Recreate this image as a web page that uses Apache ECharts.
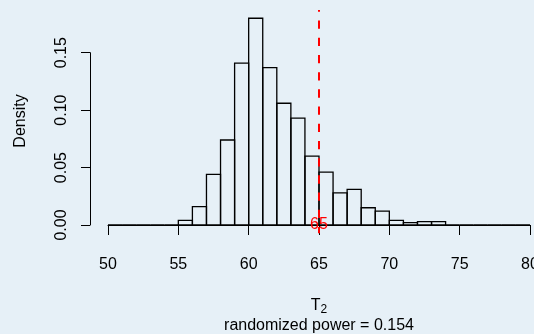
<!DOCTYPE html>
<html>
<head>
<meta charset="utf-8">
<script src="https://cdn.jsdelivr.net/npm/echarts@6/dist/echarts.min.js"></script>
<style>
  html, body { margin: 0; padding: 0; background: #e6f0f7; }
  #chart { width: 534px; height: 334px; }
</style>
</head>
<body>
<div id="chart"></div>
<script>
// histogram bin edges (width 1) and densities
const breaks = [50, 51, 52, 53, 54, 55, 56, 57, 58, 59, 60, 61, 62, 63, 64, 65,
                66, 67, 68, 69, 70, 71, 72, 73, 74, 75, 76, 77, 78, 79, 80]
const density = [0, 0, 0, 0, 0, 0.004, 0.016, 0.044, 0.074, 0.141, 0.180, 0.137, 0.106, 0.093, 0.060,
                 0.046, 0.028, 0.031, 0.015, 0.012, 0.004, 0.002, 0.003, 0.003, 0, 0, 0, 0, 0, 0]
const xTicks = [50, 55, 60, 65, 70, 75, 80]
const yTicks = [0, 0.05, 0.10, 0.15]
const observed = 65
// abline spans the whole plot region (data range + 4%)
const lineBottom = -0.0072
const lineTop = 0.1872
const powerText = 'randomized power = 0.154'

const font = 'Liberation Sans, Arial, Helvetica, sans-serif'
const myChart = echarts.init(document.getElementById('chart'))

const bins = density.map((d, i) => [breaks[i], breaks[i + 1], d])

const option = {
  backgroundColor: '#e6f0f7',
  animation: false,
  textStyle: { fontFamily: font },
  grid: { left: 108, right: 4, top: 52.7, bottom: 109, containLabel: false, outerBoundsMode: 'none' },
  xAxis: {
    type: 'value',
    min: xTicks[0],
    max: xTicks[xTicks.length - 1],
    interval: 5,
    offset: 8,
    splitLine: { show: false },
    axisLine: { show: true, lineStyle: { color: '#000', width: 1 } },
    axisTick: { show: true, length: 10, inside: false, lineStyle: { color: '#000' } },
    axisLabel: { fontSize: 16, color: '#000', margin: 24, showMinLabel: true, showMaxLabel: true, hideOverlap: false }
  },
  yAxis: {
    type: 'value',
    min: yTicks[0],
    max: yTicks[yTicks.length - 1],
    interval: 0.05,
    offset: 18,
    splitLine: { show: false },
    axisLine: { show: true, lineStyle: { color: '#000', width: 1 } },
    axisTick: { show: true, length: 9, lineStyle: { color: '#000' } },
    axisLabel: {
      fontSize: 16, color: '#000', rotate: 90, margin: 20,
      formatter: v => v.toFixed(2)
    }
  },
  graphic: [
    {
      type: 'text', x: 21, y: 121, rotation: Math.PI / 2,
      style: { text: 'Density', font: '16px ' + font, fill: '#000', align: 'center', verticalAlign: 'middle' }
    },
    {
      type: 'text', x: 319, y: 306,
      style: {
        text: '{t|T}{s|2}', align: 'center', verticalAlign: 'middle', fill: '#000',
        rich: {
          t: { fontSize: 16, fontFamily: font, color: '#000' },
          s: { fontSize: 12, fontFamily: font, color: '#000', padding: [8, 0, 0, 0] }
        }
      }
    },
    {
      type: 'text', x: 319, y: 326,
      style: { text: powerText, font: '16px ' + font, fill: '#000', align: 'center', verticalAlign: 'middle' }
    }
  ],
  series: [
    {
      type: 'custom',
      clip: false,
      data: bins,
      renderItem: function (params, api) {
        const p0 = api.coord([api.value(0), api.value(2)])
        const p1 = api.coord([api.value(1), 0])
        return {
          type: 'rect',
          shape: { x: p0[0], y: p0[1], width: p1[0] - p0[0], height: p1[1] - p0[1] },
          style: { fill: 'none', stroke: '#000', lineWidth: 1.3 }
        }
      }
    },
    {
      // dashed vertical line at the observed value, with its label
      type: 'custom',
      clip: false,
      data: [[observed, lineBottom, lineTop]],
      renderItem: function (params, api) {
        const bot = api.coord([api.value(0), api.value(1)])
        const top = api.coord([api.value(0), api.value(2)])
        const base = api.coord([api.value(0), 0])
        return {
          type: 'group',
          children: [
            {
              type: 'line',
              shape: { x1: bot[0], y1: bot[1], x2: top[0], y2: top[1] },
              style: { stroke: '#ff0000', lineWidth: 2, lineDash: [8.3, 8.9], lineDashOffset: 2 }
            },
            {
              type: 'text',
              x: base[0], y: base[1],
              style: { text: String(api.value(0)), font: '16px ' + font, fill: '#ff0000', align: 'center', verticalAlign: 'middle' }
            }
          ]
        }
      }
    }
  ]
}

option && myChart.setOption(option)
</script>
</body>
</html>
